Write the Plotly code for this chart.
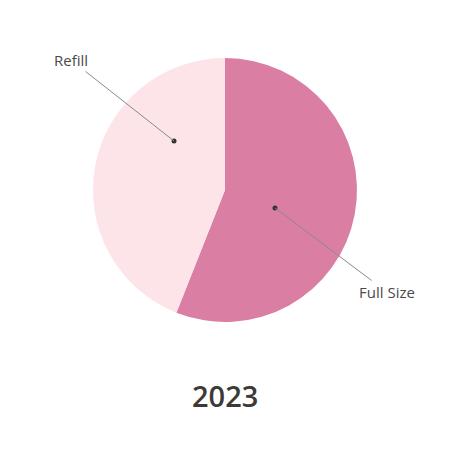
import plotly.graph_objects as go

labels = ["Full Size", "Refill"]
values = [56, 44]
colors = ["#DB7EA4", "#FCE4E8"]
year = "2023"

W, H = 450, 450
OFF = 8  # page body margin shifts the figure

def px(x, y):
    # pixel position on the screen -> paper coords
    return (x - OFF) / W, 1 - (y - OFF) / H

cx, cy, r = 225, 190, 132
fig = go.Figure()
fig.add_trace(go.Pie(
    labels=labels, values=values,
    marker=dict(colors=colors, line=dict(width=0)),
    sort=False, direction="clockwise", rotation=0,
    textinfo="none", hoverinfo="label+percent",
    showlegend=False,
    domain=dict(x=[px(cx - r, 0)[0], px(cx + r, 0)[0]],
                y=[px(0, cy + r)[1], px(0, cy - r)[1]]),
))

# label callouts: (label, dot px, text offset px)
callouts = [("Refill", (174, 141), (-103, -81)),
            ("Full Size", (275, 208), (112, 84))]
for text, (dx, dy), (ox, oy) in callouts:
    x, y = px(dx, dy)
    fig.add_annotation(x=x, y=y, xref="paper", yref="paper", text=text,
                       showarrow=True, arrowhead=0, arrowwidth=1,
                       arrowcolor="#8a8a8a", ax=ox, ay=oy, standoff=0,
                       font=dict(size=15, color="#4a4a4a"))
    fig.add_shape(type="circle", xref="paper", yref="paper",
                  x0=px(dx - 2.5, 0)[0], x1=px(dx + 2.5, 0)[0],
                  y0=px(0, dy + 2.5)[1], y1=px(0, dy - 2.5)[1],
                  fillcolor="#333333", line=dict(width=0))

fig.add_annotation(x=px(225, 0)[0], y=px(0, 395)[1], xref="paper", yref="paper",
                   text=year, showarrow=False, yanchor="middle",
                   font=dict(size=29, color="#3d3935", weight=600))

fig.update_layout(
    width=W, height=H,
    margin=dict(l=0, r=0, t=0, b=0),
    paper_bgcolor="white", plot_bgcolor="white",
    font=dict(family="Open Sans, sans-serif"),
)
fig.write_html("out.html")
